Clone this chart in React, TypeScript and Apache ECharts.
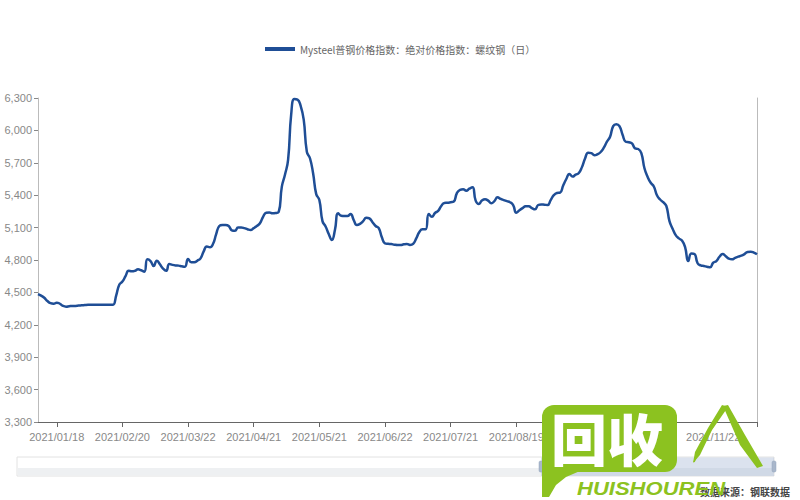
import React, { useEffect, useRef } from "react";
import * as echarts from "echarts";

// Trading days of 2021 (day numbers per month)
const jan = [8, 11, 12, 13, 14, 15, 18, 19, 20, 21, 22, 25, 26, 27, 28, 29];
const feb = [1, 2, 3, 4, 5, 7, 8, 9, 10, 18, 19, 20, 22, 23, 24, 25, 26];
const mar = [1, 2, 3, 4, 5, 8, 9, 10, 11, 12, 15, 16, 17, 18, 19, 22, 23, 24, 25, 26, 29, 30, 31];
const apr = [1, 2, 6, 7, 8, 9, 12, 13, 14, 15, 16, 19, 20, 21, 22, 23, 25, 26, 27, 28, 29, 30];
const may = [6, 7, 8, 10, 11, 12, 13, 14, 17, 18, 19, 20, 21, 24, 25, 26, 27, 28, 31];
const jun = [1, 2, 3, 4, 7, 8, 9, 10, 11, 15, 16, 17, 18, 21, 22, 23, 24, 25, 28, 29, 30];
const jul = [1, 2, 5, 6, 7, 8, 9, 12, 13, 14, 15, 16, 19, 20, 21, 22, 23, 26, 27, 28, 29, 30];
const aug = [2, 3, 4, 5, 6, 9, 10, 11, 12, 13, 16, 17, 18, 19, 20, 23, 24, 25, 26, 27, 30, 31];
const sep = [1, 2, 3, 6, 7, 8, 9, 10, 13, 14, 15, 16, 17, 18, 22, 23, 24, 26, 27, 28, 29, 30];
const oct = [8, 9, 11, 12, 13, 14, 15, 18, 19, 20, 21, 22, 25, 26, 27, 28, 29];
const nov = [1, 2, 3, 4, 5, 8, 9, 10, 11, 12, 15, 16, 17, 18, 19, 22, 23, 24, 25, 26, 29, 30];
const dec = [1, 2, 3, 6, 7, 8, 9, 10];

// Index values per month (same order as the days above)
const janVals = [4485, 4470, 4450, 4420, 4400, 4395, 4405, 4395, 4375, 4368, 4372, 4375, 4375, 4378, 4380, 4383];
const febVals = [4385, 4385, 4385, 4386, 4386, 4386, 4386, 4386, 4385, 4470, 4570, 4600, 4650, 4700, 4695, 4700, 4714];
const marVals = [4705, 4692, 4806, 4790, 4744, 4794, 4760, 4720, 4700, 4763, 4755, 4750, 4748, 4742, 4738, 4809, 4780, 4780, 4794, 4815, 4880, 4925, 4918];
const aprVals = [4950, 5040, 5115, 5124, 5124, 5115, 5075, 5070, 5100, 5100, 5095, 5085, 5078, 5095, 5115, 5140, 5200, 5238, 5240, 5233, 5235, 5245];
const mayVals = [5479, 5590, 5726, 6150, 6290, 6285, 6230, 6100, 5803, 5742, 5603, 5410, 5356, 5160, 5110, 5040, 4985, 5080, 5233];
const junVals = [5210, 5207, 5207, 5226, 5170, 5124, 5135, 5160, 5192, 5185, 5150, 5115, 5095, 5010, 4954, 4950, 4948, 4942, 4939, 4939, 4945];
const julVals = [4948, 4940, 4950, 5000, 5060, 5084, 5084, 5226, 5201, 5235, 5255, 5300, 5328, 5330, 5335, 5341, 5420, 5450, 5455, 5442, 5460, 5473];
const augVals = [5350, 5319, 5350, 5362, 5350, 5325, 5345, 5381, 5365, 5355, 5345, 5335, 5309, 5238, 5260, 5280, 5298, 5298, 5280, 5269, 5309, 5315];
const sepVals = [5312, 5309, 5355, 5400, 5420, 5424, 5490, 5550, 5597, 5572, 5590, 5605, 5660, 5740, 5794, 5790, 5770, 5780, 5800, 5840, 5895, 5942];
const octVals = [6040, 6058, 6040, 5960, 5895, 5890, 5880, 5834, 5828, 5790, 5650, 5570, 5515, 5480, 5400, 5360, 5335];
const novVals = [5300, 5160, 5090, 5030, 5000, 4980, 4920, 4790, 4860, 4855, 4770, 4750, 4744, 4738, 4732, 4775, 4790, 4830, 4856, 4835, 4812, 4806];
const decVals = [4820, 4831, 4840, 4855, 4875, 4877, 4868, 4853];

const monthDays = [jan, feb, mar, apr, may, jun, jul, aug, sep, oct, nov, dec];
const monthVals = [janVals, febVals, marVals, aprVals, mayVals, junVals, julVals, augVals, sepVals, octVals, novVals, decVals];

const seriesName = "Mysteel普钢价格指数：绝对价格指数：螺纹钢（日）";
const sourceText = "数据来源：钢联数据";
const yMin = 3300;
const yMax = 6300;
const yStep = 300;
const labelFirst = 6;
const labelEvery = 21;
// labels that lie under the watermark in the reference (not visible there)
const hiddenLabels = ["2021/09/17", "2021/10/22"];

const pad = (n: number) => (n < 10 ? "0" + n : "" + n);
const dates: string[] = [];
const values: number[] = [];
monthDays.forEach((days, m) => {
  days.forEach((d, i) => {
    dates.push(`2021/${pad(m + 1)}/${pad(d)}`);
    values.push(monthVals[m][i]);
  });
});

const GREEN = "#8cc220";

export default function App() {
  const ref = useRef<HTMLDivElement>(null);
  useEffect(() => {
    if (!ref.current) return;
    const chart = echarts.init(ref.current, null, { renderer: "svg" });
    const lastIdx = dates.length - 1;
    const isLabelIdx = (idx: number) => idx >= labelFirst && (idx - labelFirst) % labelEvery === 0;
    chart.setOption({
      animation: false,
      backgroundColor: "#fff",
      textStyle: { fontFamily: "Liberation Sans, Arial, sans-serif" },
      legend: {
        top: 39,
        left: 260,
        icon: "rect",
        itemWidth: 30,
        itemHeight: 4,
        itemGap: 10,
        textStyle: { color: "#666", fontSize: 10, fontFamily: "Noto Sans CJK SC" },
        data: [seriesName],
      },
      grid: { left: 38, right: 43, top: 98, bottom: 78 },
      xAxis: {
        type: "category",
        data: dates,
        boundaryGap: false,
        axisLine: { lineStyle: { color: "#666", width: 1 } },
        axisTick: {
          length: 5,
          lineStyle: { color: "#666" },
          interval: (idx: number) => idx === lastIdx || isLabelIdx(idx),
        },
        axisLabel: {
          color: "#888",
          fontSize: 11,
          margin: 9,
          interval: (idx: number, val: string) => isLabelIdx(idx) && hiddenLabels.indexOf(val) < 0,
        },
        splitLine: { show: false },
      },
      yAxis: [
        {
          type: "value",
          min: yMin,
          max: yMax,
          interval: yStep,
          axisLine: { show: true, lineStyle: { color: "#bbb" } },
          axisTick: { show: true, length: 4, lineStyle: { color: "#888" } },
          axisLabel: {
            color: "#888",
            fontSize: 11,
            margin: 6,
            formatter: (v: number) => v.toLocaleString("en-US"),
          },
          splitLine: { show: false },
        },
        {
          type: "value",
          position: "right",
          min: yMin,
          max: yMax,
          interval: yStep,
          axisLine: { show: true, lineStyle: { color: "#bbb" } },
          axisTick: { show: false },
          axisLabel: { show: false },
          splitLine: { show: false },
        },
      ],
      series: [
        {
          name: seriesName,
          type: "line",
          data: values,
          smooth: true,
          showSymbol: false,
          symbol: "none",
          lineStyle: { color: "#1f4e96", width: 2.5 },
          itemStyle: { color: "#1f4e96" },
        },
      ],
      graphic: [
        // slider-like data zoom bar
        {
          type: "rect",
          z: 10,
          shape: { x: 17, y: 457, width: 757, height: 19 },
          style: { fill: "#fff", stroke: "#e2e2e2", lineWidth: 1 },
        },
        {
          type: "rect",
          z: 11,
          shape: { x: 17.5, y: 468, width: 756, height: 7.5 },
          style: { fill: "#eef0f2" },
        },
        {
          type: "rect",
          z: 12,
          shape: { x: 541, y: 457.5, width: 233, height: 18.5 },
          style: { fill: "rgba(160,180,210,0.38)" },
        },
        {
          type: "rect",
          z: 13,
          shape: { x: 539, y: 461, width: 4, height: 11, r: 1.5 },
          style: { fill: "#a9b7cb", stroke: "#93a4bd", lineWidth: 0.5 },
        },
        {
          type: "rect",
          z: 13,
          shape: { x: 772, y: 461, width: 4, height: 11, r: 1.5 },
          style: { fill: "#a9b7cb", stroke: "#93a4bd", lineWidth: 0.5 },
        },
        // source note
        {
          type: "text",
          z: 14,
          right: 10,
          top: 486,
          style: {
            text: sourceText,
            fill: "#444",
            fontSize: 10,
            fontWeight: "bold",
            fontFamily: "Noto Sans CJK SC",
          },
        },
        // watermark
        {
          type: "rect",
          z: 20,
          shape: { x: 542, y: 405, width: 135, height: 67, r: 12 },
          style: { fill: GREEN },
        },
        {
          type: "polygon",
          z: 20,
          shape: {
            points: [
              [542, 455],
              [542, 497],
              [549, 497],
              [556, 485],
              [566, 477],
              [580, 471],
              [560, 471],
            ],
          },
          style: { fill: GREEN },
        },
        {
          type: "text",
          z: 21,
          x: 551,
          y: 408,
          style: {
            text: "回收",
            fill: "#fff",
            fontSize: 56,
            fontWeight: 900,
            fontFamily: "Noto Sans CJK SC",
          },
        },
        {
          type: "text",
          z: 21,
          x: 577,
          y: 479,
          scaleX: 1.16,
          style: {
            text: "HUISHOUREN",
            fill: GREEN,
            fontSize: 19,
            fontWeight: "bold",
            fontStyle: "italic",
            fontFamily: "Liberation Sans",
          },
        },
        {
          type: "polygon",
          z: 21,
          shape: {
            points: [
              [722, 405],
              [728, 407],
              [712, 430],
              [700, 455],
              [693, 463],
              [695, 452],
              [708, 428],
            ],
          },
          style: { fill: GREEN },
        },
        {
          type: "polyline",
          z: 21,
          shape: { points: [[694, 462], [704, 440], [714, 425]] },
          style: { stroke: GREEN, lineWidth: 1.5, fill: "none" },
        },
        {
          type: "polygon",
          z: 21,
          shape: {
            points: [
              [723, 406],
              [728, 405],
              [745, 435],
              [763, 466],
              [757, 468],
              [740, 445],
            ],
          },
          style: { fill: GREEN },
        },
      ],
    });
    return () => chart.dispose();
  }, []);
  return (
    <div
      ref={ref}
      style={{ position: "fixed", left: 0, top: 0, width: 800, height: 500 }}
    />
  );
}
